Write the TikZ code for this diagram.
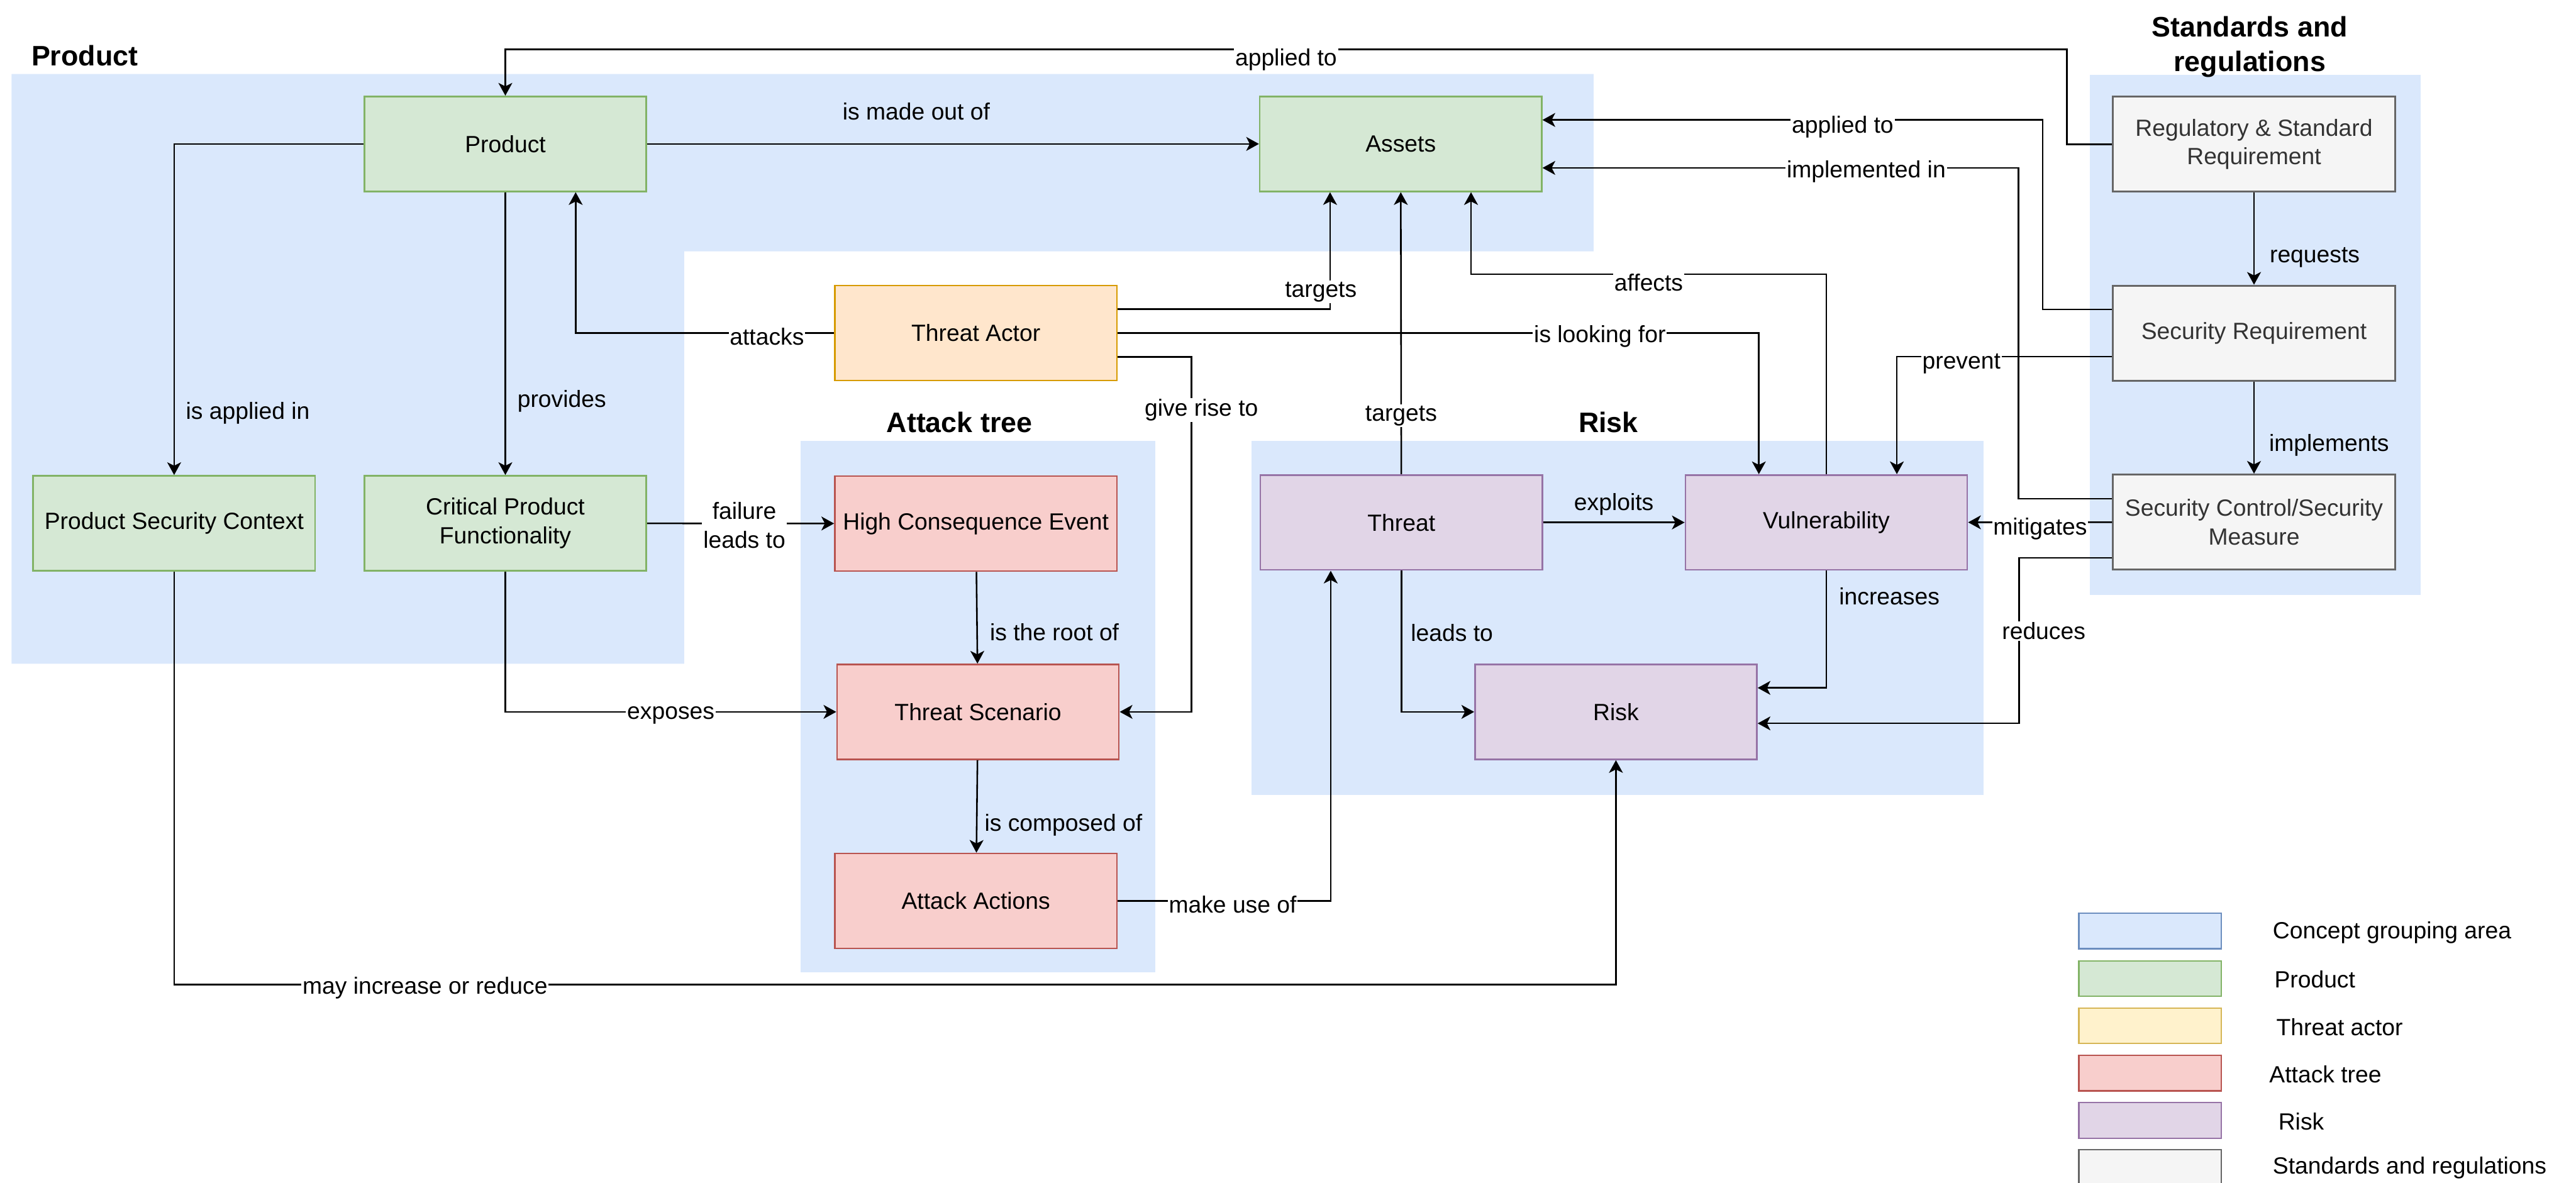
\documentclass[tikz,border=0pt]{standalone}
\usepackage{fontspec}
\setmainfont{Liberation Sans}
\usepackage{tikz}
\usetikzlibrary{arrows.meta,calc}

\definecolor{areafill}{HTML}{DAE8FC}
\definecolor{areadraw}{HTML}{6C8EBF}
\definecolor{prodfill}{HTML}{D5E8D4}
\definecolor{proddraw}{HTML}{82B366}
\definecolor{actfill}{HTML}{FFE6CC}
\definecolor{actdraw}{HTML}{D79B00}
\definecolor{yelfill}{HTML}{FFF2CC}
\definecolor{yeldraw}{HTML}{D6B656}
\definecolor{atkfill}{HTML}{F8CECC}
\definecolor{atkdraw}{HTML}{B85450}
\definecolor{riskfill}{HTML}{E1D5E7}
\definecolor{riskdraw}{HTML}{9673A6}
\definecolor{stdfill}{HTML}{F5F5F5}
\definecolor{stddraw}{HTML}{666666}
\definecolor{stdtext}{HTML}{333333}

\newcommand{\lblsize}{\fontsize{20.3}{25}\selectfont}
\newcommand{\headsize}{\fontsize{24.4}{30}\selectfont\bfseries}

\begin{document}
\begin{tikzpicture}[x=0.05cm,y=-0.05cm,
        box/.style={draw,line width=1.4pt,minimum width=8.58cm,minimum height=2.89cm,inner sep=0pt,align=center,font=\lblsize},
        prodbox/.style={box,fill=prodfill,draw=proddraw},
        actorbox/.style={box,fill=actfill,draw=actdraw},
        atkbox/.style={box,fill=atkfill,draw=atkdraw},
        riskbox/.style={box,fill=riskfill,draw=riskdraw},
        stdbox/.style={box,fill=stdfill,draw=stddraw,text=stdtext,line width=1.7pt},
        head/.style={font=\headsize,align=center,inner sep=0pt},
        lbl/.style={font=\lblsize,inner sep=1pt},
        onl/.style={lbl,fill=white,yshift=-0.11cm},
        arr/.style={-{Stealth[length=11pt,width=12pt,inset=3pt]},line width=1.4pt},
        swatch/.style={draw,line width=1.2pt,minimum width=4.33cm,minimum height=1.08cm,inner sep=0pt}]
        \useasboundingbox (0,0) rectangle (1568,720);

        % grouping areas
        \fill[areafill] (7,45) -- (970,45) -- (970,153) -- (416.4,153) -- (416.4,404) -- (7,404) -- cycle;
        \fill[areafill] (487.5,268.4) rectangle (703.2,591.8);
        \fill[areafill] (761.6,268.4) rectangle (1207.5,483.7);
        \fill[areafill] (1272.2,45.7) rectangle (1473.3,362.2);

        \node[head,anchor=west] at (19,34) (hprod){Product};
        \node[head] at (584,257) (hatk){Attack tree};
        \node[head] at (979,257) (hrisk){Risk};
        \node[head] at (1369.4,28.5) (hstd){Standards and\\regulations};

        % concepts
        \node[prodbox] at (307.6,87.6) (prd){Product};
        \node[prodbox] at (852.6,87.6) (ast){Assets};
        \node[prodbox] at (106,318.5) (psc){Product Security Context};
        \node[prodbox] at (307.6,318.5) (cpf){Critical Product\\Functionality};
        \node[actorbox] at (594,202.7) (ta){Threat Actor};
        \node[atkbox] at (594,318.7) (hce){High Consequence Event};
        \node[atkbox] at (595.3,433.3) (ts){Threat Scenario};
        \node[atkbox] at (594,548.4) (aa){Attack Actions};
        \node[riskbox] at (853,318) (thr){Threat};
        \node[riskbox] at (1111.7,318) (vul){Vulnerability};
        \node[riskbox] at (983.6,433.3) (rsk){Risk};
        \node[stdbox] at (1372,87.8) (reg){Regulatory \& Standard\\Requirement};
        \node[stdbox] at (1372,202.8) (sreq){Security Requirement};
        \node[stdbox] at (1372,317.8) (ctl){Security Control/Security\\Measure};

        % straight links
        \draw[arr]
        (prd) edge node[lbl,pos=.44,yshift=0.98cm] {is made out of} (ast)
        (prd) edge node[lbl,anchor=west,pos=.74,xshift=0.31cm] {provides} (cpf)
        (cpf) edge node[onl,pos=.52,align=center,yshift=0.06cm] {failure\\leads to} (hce)
        (hce) edge node[lbl,anchor=west,pos=.66,xshift=0.33cm] {is the root of} (ts)
        (ts) edge node[lbl,anchor=west,pos=.70,xshift=0.18cm] {is composed of} (aa)
        (thr) edge node[lbl,pos=.5,yshift=0.55cm] {exploits} (vul)
        (thr) edge node[onl,pos=.22] {targets} (ast)
        (reg) edge node[lbl,anchor=west,pos=.70,xshift=0.42cm] {requests} (sreq)
        (sreq) edge node[lbl,anchor=west,pos=.69,xshift=0.4cm] {implements} (ctl)
        (ctl) edge node[onl,pos=.5,yshift=-0.08cm] {mitigates} (vul);

        % elbow links
        \draw[arr] (reg.west) -| (1258,30) -| node[onl,pos=.25,yshift=-0.2cm] {applied to} (prd.north);
        \draw[arr] ($(sreq.west)+(0,-14.5)$) -| (1243.4,73) -- node[onl,pos=.4,yshift=-0.1cm] {applied to} ($(ast.east)+(0,-14.6)$);
        \draw[arr] ($(ctl.west)+(0,-14.2)$) -| (1228.7,102.2) -- node[onl,pos=.32] {implemented in} ($(ast.east)+(0,14.6)$);
        \draw[arr] ($(ctl.west)+(0,21.7)$) -| node[onl,pos=.71,xshift=0.75cm] {reduces} (1229,440.3) -- ($(rsk.east)+(0,7)$);
        \draw[arr] ($(sreq.west)+(0,14.2)$) -| node[onl,pos=.35,yshift=-0.1cm] {prevent} ($(vul.north)+(42.9,0)$);
        \draw[arr] (ta.east) -| node[onl,pos=.376] {is looking for} ($(vul.north)+(-41.1,0)$);
        \draw[arr] (vul.north) |- node[onl,pos=.75,yshift=-0.14cm] {affects} (895.4,166.9) -- ($(ast.south)+(42.8,0)$);
        \draw[arr] ($(ta.east)+(0,-14.5)$) -| node[onl,pos=.59,xshift=-0.28cm] {targets} ($(ast.south)+(-43,0)$);
        \draw[arr] ($(ta.east)+(0,14.5)$) -| node[onl,pos=.57,xshift=0.3cm] {give rise to} (725.3,433.3) -- (ts.east);
        \draw[arr] (ta.west) -| node[onl,pos=.13] {attacks} ($(prd.south)+(42.8,0)$);
        \draw[arr] (prd.west) -| node[lbl,anchor=west,pos=.907,xshift=0.3cm] {is applied in} (psc.north);
        \draw[arr] (cpf.south) |- node[onl,pos=.75] {exposes} (ts.west);
        \draw[arr] (psc.south) |- node[onl,pos=.587] {may increase or reduce} ($(rsk.south)+(0,136.5)$) -- (rsk.south);
        \draw[arr] (aa.east) -| node[onl,pos=.27] {make use of} ($(thr.south)+(-43,0)$);
        \draw[arr] (thr.south) |- node[lbl,anchor=west,pos=.22,xshift=0.23cm] {leads to} (rsk.west);
        \draw[arr] (vul.south) |- node[lbl,anchor=west,pos=.11,xshift=0.33cm] {increases} ($(rsk.east)+(0,-14.6)$);

        % legend
        \node[swatch,fill=areafill,draw=areadraw] at (1308.7,566.7) (k1){};
        \node[lbl,anchor=west] at (1382.6,567.5) (t1){Concept grouping area};
        \node[swatch,fill=prodfill,draw=proddraw] at (1308.7,595.6) (k2){};
        \node[lbl,anchor=west] at (1383.6,596.2) (t2){Product};
        \node[swatch,fill=yelfill,draw=yeldraw] at (1308.7,624.4) (k3){};
        \node[lbl,anchor=west] at (1384.8,625) (t3){Threat actor};
        \node[swatch,fill=atkfill,draw=atkdraw] at (1308.7,653.2) (k4){};
        \node[lbl,anchor=west] at (1380.5,653.8) (t4){Attack tree};
        \node[swatch,fill=riskfill,draw=riskdraw] at (1308.7,682) (k5){};
        \node[lbl,anchor=west] at (1386,682.6) (t5){Risk};
        \node[swatch,fill=stdfill,draw=stddraw] at (1308.7,710.7) (k6){};
        \node[lbl,anchor=west] at (1382.6,711) (t6){Standards and regulations};
    \end{tikzpicture}
\end{document}
